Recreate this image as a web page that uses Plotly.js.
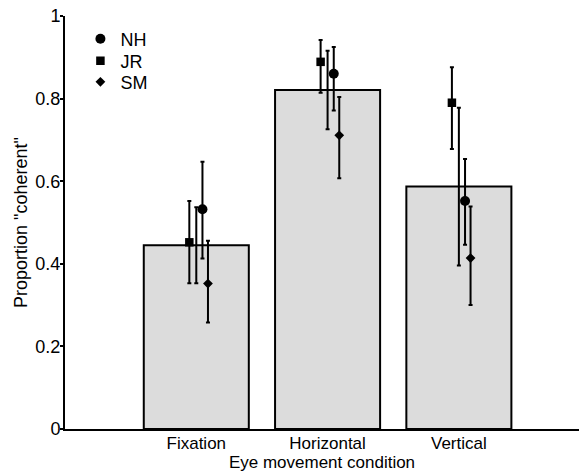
<!DOCTYPE html>
<html>
<head>
<meta charset="utf-8">
<script src="https://cdn.plot.ly/plotly-3.0.1.min.js"></script>
<style>html,body{margin:0;padding:0;background:#fff;}#chart{width:579px;height:474px;}</style>
</head>
<body>
<div id="chart"></div>
<script>
// Data
const categories = ["Fixation", "Horizontal", "Vertical"];
const meanValues = [0.445, 0.821, 0.587];
const meanErrors = [0.092, 0.095, 0.191];

const subjects = ["NH", "JR", "SM"];
const nhValues = [0.532, 0.860, 0.552];
const nhErrPlus = [0.115, 0.065, 0.102];
const nhErrMinus = [0.119, 0.089, 0.106];
const jrValues = [0.452, 0.889, 0.790];
const jrErrPlus = [0.100, 0.053, 0.086];
const jrErrMinus = [0.099, 0.075, 0.112];
const smValues = [0.352, 0.711, 0.414];
const smErrPlus = [0.104, 0.093, 0.125];
const smErrMinus = [0.094, 0.104, 0.114];

// Positions/styles
const catPos = categories.map((c, i) => i + 1);
const offsets = {NH: 0.047, JR: -0.053, SM: 0.089};
const symbols = {NH: "circle", JR: "square", SM: "diamond"};
const sizes = {NH: 10, JR: 8.5, SM: 7.5};
const legendIds = {NH: "legend", JR: "legend2", SM: "legend3"};

const font = "Liberation Sans, Arial, Helvetica, sans-serif";

const barTrace = {
  type: "bar",
  x: catPos,
  y: meanValues,
  width: 0.8,
  marker: {color: "#dcdcdc", line: {color: "#000", width: 2}},
  error_y: {type: "data", array: meanErrors, visible: true, color: "#000", thickness: 2, width: 2},
  showlegend: false,
  hoverinfo: "skip"
};

function subjTrace(name, vals, plus, minus) {
  return {
    type: "scatter",
    mode: "markers",
    name: name,
    legend: legendIds[name],
    x: catPos.map(p => p + offsets[name]),
    y: vals,
    marker: {symbol: symbols[name], size: sizes[name], color: "#000"},
    error_y: {type: "data", symmetric: false, array: plus, arrayminus: minus, visible: true, color: "#000", thickness: 2, width: 2},
    cliponaxis: false
  };
}

const data = [
  barTrace,
  subjTrace("NH", nhValues, nhErrPlus, nhErrMinus),
  subjTrace("JR", jrValues, jrErrPlus, jrErrMinus),
  subjTrace("SM", smValues, smErrPlus, smErrMinus)
];

function legendAt(y) {
  return {x: 0.03, y: y, xanchor: "left", yanchor: "middle", bgcolor: "rgba(0,0,0,0)", borderwidth: 0, font: {size: 18}};
}

const layout = {
  width: 579,
  height: 474,
  margin: {l: 65, r: 0, t: 16, b: 45, pad: 0},
  paper_bgcolor: "#fff",
  plot_bgcolor: "#fff",
  font: {family: font, size: 18, color: "#000"},
  showlegend: true,
  legend: legendAt(0.944),
  legend2: legendAt(0.891),
  legend3: legendAt(0.840),
  xaxis: {
    range: [0, 3.915],
    tickvals: catPos,
    ticktext: categories,
    ticks: "",
    ticklabelstandoff: -2,
    showgrid: false,
    zeroline: false,
    showline: true,
    linecolor: "#000",
    linewidth: 2,
    tickfont: {size: 17},
    title: {text: "Eye movement condition", font: {size: 17}, standoff: 4}
  },
  yaxis: {
    range: [0, 1],
    tickvals: [0, 0.2, 0.4, 0.6, 0.8, 1],
    ticktext: ["0", "0.2", "0.4", "0.6", "0.8", "1"],
    ticks: "outside",
    ticklen: 3,
    tickwidth: 2,
    tickcolor: "#000",
    ticklabelstandoff: -4,
    showgrid: false,
    zeroline: false,
    showline: true,
    linecolor: "#000",
    linewidth: 2,
    tickfont: {size: 18},
    title: {text: "Proportion \"coherent\"", font: {size: 18}, standoff: 3}
  }
};

Plotly.newPlot("chart", data, layout, {displayModeBar: false, staticPlot: true});
</script>
</body>
</html>
